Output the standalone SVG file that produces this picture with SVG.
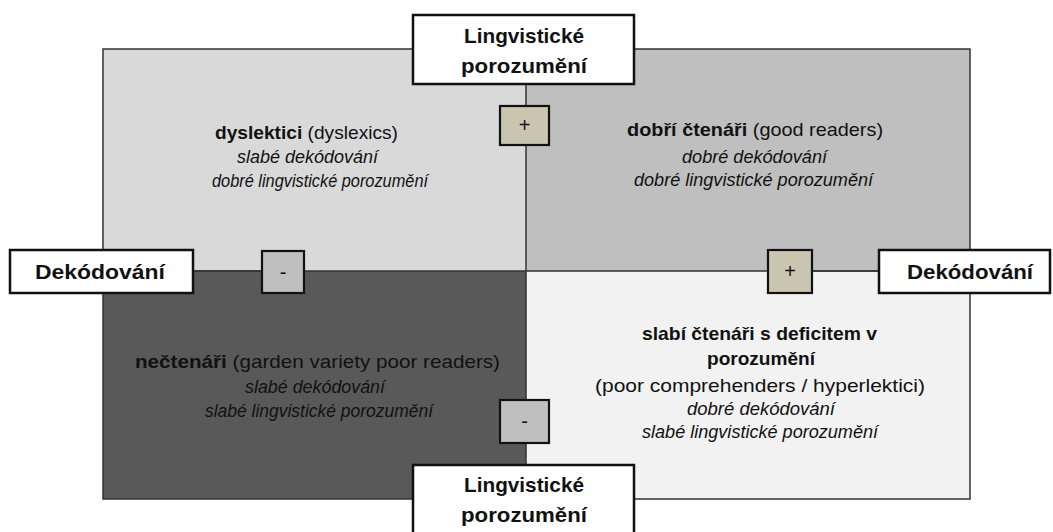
<svg xmlns="http://www.w3.org/2000/svg" width="1053" height="532" viewBox="0 0 1053 532">
<style>
  text { font-family: "Liberation Sans", Arial, sans-serif; fill: #111; }
  .main { font-size: 19px; }
  .it { font-size: 18px; font-style: italic; }
  .b { font-weight: bold; }
  .lbl { font-size: 21px; font-weight: bold; }
  .lblbox { fill: #ffffff; stroke: #111; stroke-width: 2.5; }
  .pm { font-size: 20px; text-anchor: middle; }
  .plus { fill: #c9c5b0; stroke: #111; stroke-width: 2.2; }
  .minus { fill: #bfbfbf; stroke: #111; stroke-width: 2.2; }
  .div { stroke: #333; stroke-width: 1.5; fill: none; }
</style>
<rect width="1053" height="532" fill="#ffffff"/>
<g id="quadrants">
  <rect id="q-tl" x="103" y="49" width="423" height="222" fill="#d9d9d9"/>
  <rect id="q-tr" x="526" y="49" width="444" height="222" fill="#bfbfbf"/>
  <rect id="q-bl" x="103" y="271" width="423" height="228" fill="#595959"/>
  <rect id="q-br" x="526" y="271" width="444" height="228" fill="#f2f2f2"/>
</g>
<g id="connectors">
  <rect x="103" y="49" width="867" height="450" class="div" stroke="#444"/>
  <line x1="526" y1="49" x2="526" y2="499" class="div"/>
  <line x1="103" y1="271" x2="970" y2="271" class="div"/>
  <line x1="193" y1="271" x2="262" y2="271" class="div"/>
  <line x1="812" y1="271" x2="879" y2="271" class="div"/>
</g>
<g id="node-tl">
  <text class="main" x="215" y="139" textLength="183" lengthAdjust="spacingAndGlyphs"><tspan class="b">dyslektici</tspan> (dyslexics)</text>
  <text class="it" x="237" y="163" textLength="141" lengthAdjust="spacingAndGlyphs">slabé dekódování</text>
  <text class="it" x="212" y="187" textLength="216" lengthAdjust="spacingAndGlyphs">dobré lingvistické porozumění</text>
</g>
<g id="node-tr">
  <text class="main" x="627" y="136" textLength="256" lengthAdjust="spacingAndGlyphs"><tspan class="b">dobří čtenáři</tspan> (good readers)</text>
  <text class="it" x="682" y="163" textLength="145" lengthAdjust="spacingAndGlyphs">dobré dekódování</text>
  <text class="it" x="634" y="186" textLength="239" lengthAdjust="spacingAndGlyphs">dobré lingvistické porozumění</text>
</g>
<g id="node-bl">
  <text class="main" x="135" y="368" textLength="365" lengthAdjust="spacingAndGlyphs"><tspan class="b">nečtenáři</tspan>  (garden variety poor readers)</text>
  <text class="it" x="245" y="393" textLength="140" lengthAdjust="spacingAndGlyphs">slabé dekódování</text>
  <text class="it" x="205" y="417" textLength="228" lengthAdjust="spacingAndGlyphs">slabé lingvistické porozumění</text>
</g>
<g id="node-br">
  <text class="main b" x="642" y="340" textLength="235" lengthAdjust="spacingAndGlyphs">slabí čtenáři s deficitem v</text>
  <text class="main b" x="707" y="365" textLength="108" lengthAdjust="spacingAndGlyphs">porozumění</text>
  <text class="main" x="595" y="392" textLength="330" lengthAdjust="spacingAndGlyphs">(poor comprehenders  / hyperlektici)</text>
  <text class="it" x="687" y="415" textLength="148" lengthAdjust="spacingAndGlyphs">dobré dekódování</text>
  <text class="it" x="642" y="438" textLength="236" lengthAdjust="spacingAndGlyphs">slabé lingvistické porozumění</text>
</g>
<g id="label-top">
  <rect class="lblbox" x="413" y="15" width="221" height="69"/>
  <text class="lbl" x="464" y="43" textLength="120" lengthAdjust="spacingAndGlyphs">Lingvistické</text>
  <text class="lbl" x="461" y="73" textLength="126" lengthAdjust="spacingAndGlyphs">porozumění</text>
</g>
<g id="label-bottom">
  <rect class="lblbox" x="413" y="465" width="221" height="80"/>
  <text class="lbl" x="464" y="492" textLength="120" lengthAdjust="spacingAndGlyphs">Lingvistické</text>
  <text class="lbl" x="461" y="522" textLength="126" lengthAdjust="spacingAndGlyphs">porozumění</text>
</g>
<g id="label-left">
  <rect class="lblbox" x="10" y="250" width="183" height="43"/>
  <text class="lbl" x="35" y="279" textLength="130" lengthAdjust="spacingAndGlyphs">Dekódování</text>
</g>
<g id="label-right">
  <rect class="lblbox" x="879" y="250" width="171" height="43"/>
  <text class="lbl" x="907" y="279" textLength="126" lengthAdjust="spacingAndGlyphs">Dekódování</text>
</g>
<g id="sign-top-plus">
  <rect class="plus" x="500" y="106" width="49" height="39"/>
  <text class="pm" x="524.5" y="132">+</text>
</g>
<g id="sign-left-minus">
  <rect class="minus" x="262" y="251" width="42" height="42"/>
  <text class="pm" x="283" y="279">-</text>
</g>
<g id="sign-right-plus">
  <rect class="plus" x="768" y="250" width="44" height="43"/>
  <text class="pm" x="790" y="278">+</text>
</g>
<g id="sign-bottom-minus">
  <rect class="minus" x="500" y="400" width="49" height="43"/>
  <text class="pm" x="524.5" y="428">-</text>
</g>
</svg>
